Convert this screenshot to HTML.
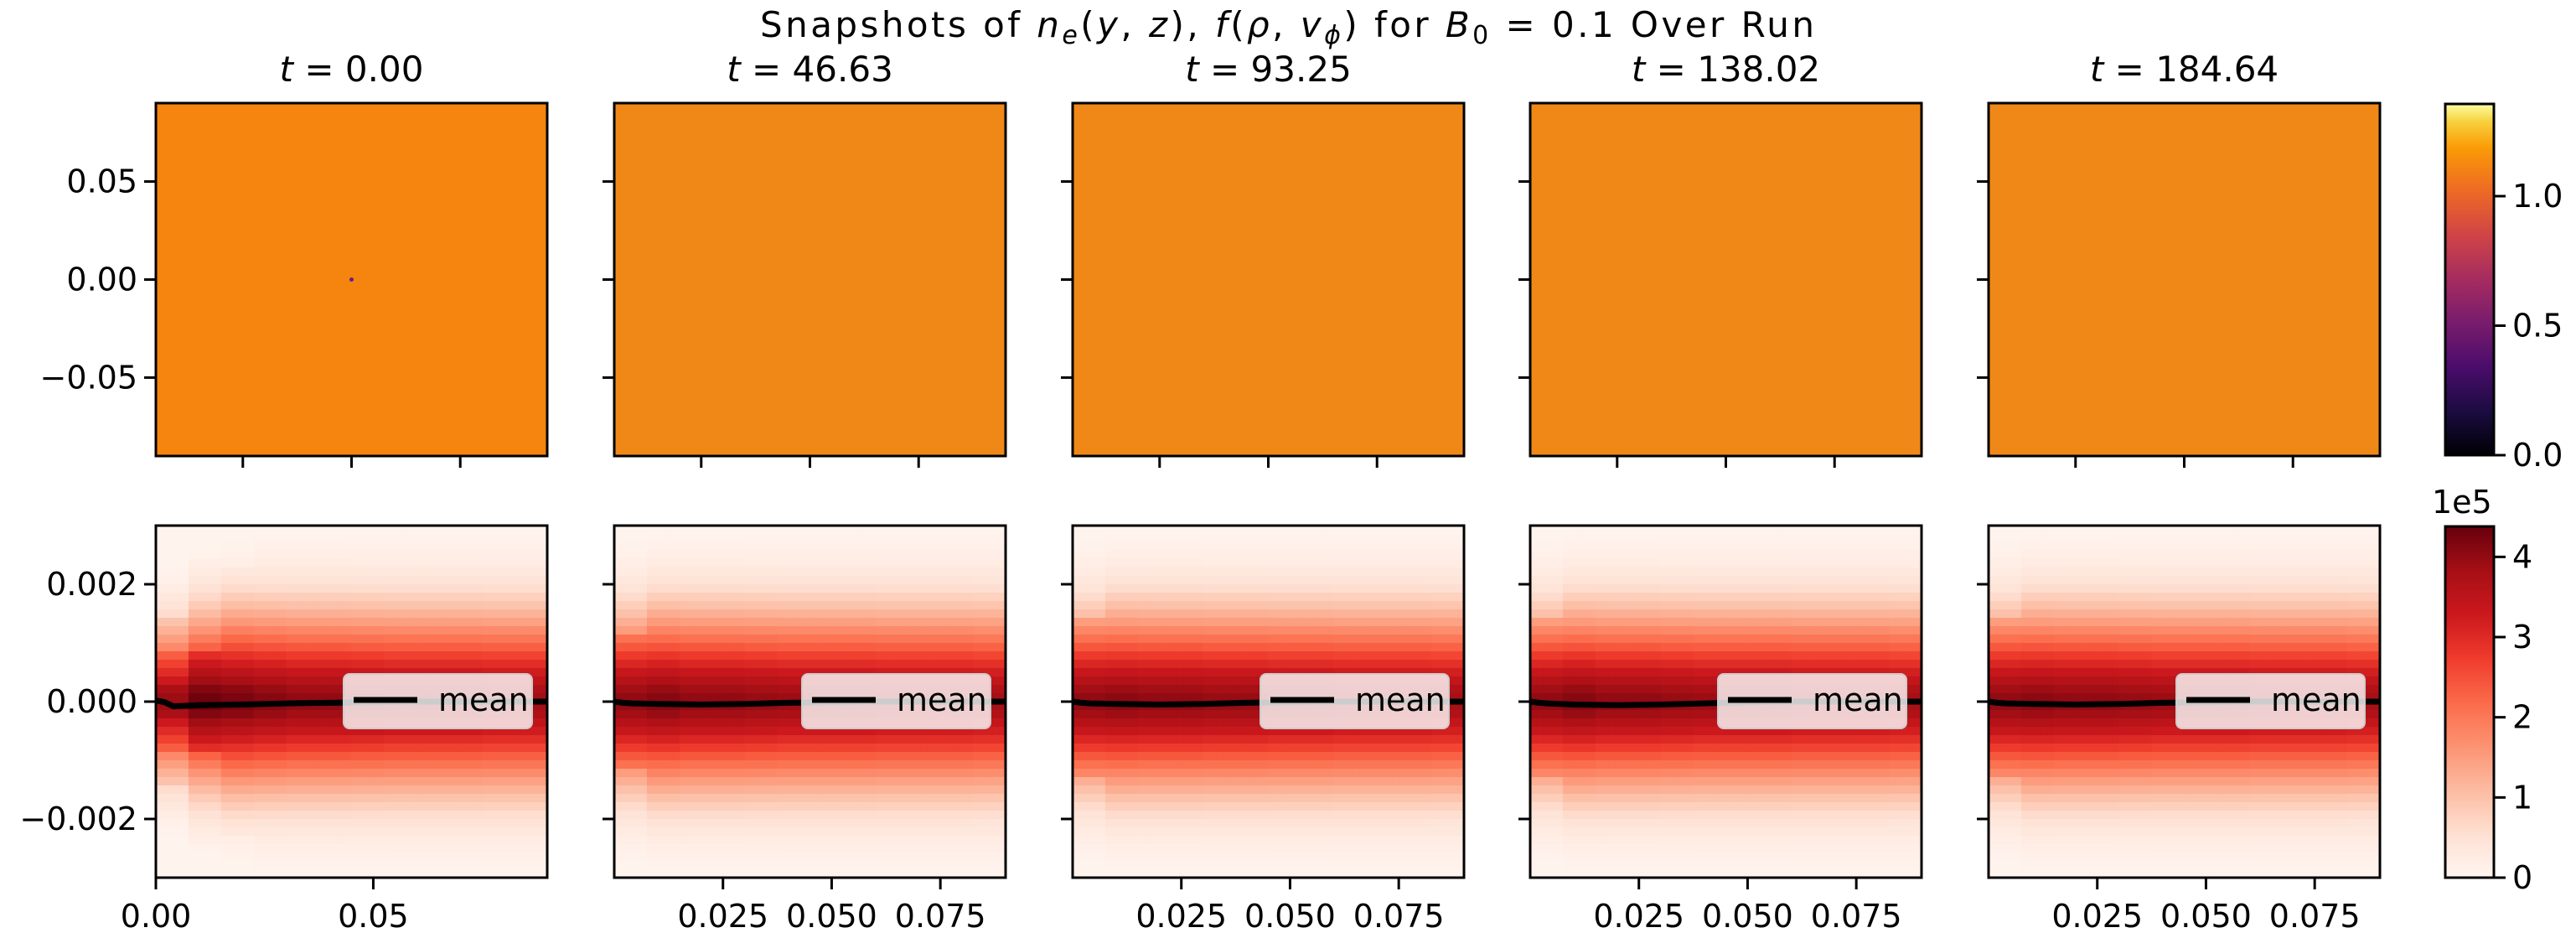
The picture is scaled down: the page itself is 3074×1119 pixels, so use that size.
<!DOCTYPE html>
<html><head><meta charset="utf-8"><style>
html,body{margin:0;padding:0;background:#fff;}
svg{display:block;font-family:"DejaVu Sans","Liberation Sans",sans-serif;}
</style></head><body>
<svg id="fig" xmlns="http://www.w3.org/2000/svg" width="3074" height="1119" viewBox="0 0 3074 1119">
<defs>
<linearGradient id="infernoGrad" x1="0" y1="1" x2="0" y2="0">
<stop offset="0" stop-color="#000004"/><stop offset="0.125" stop-color="#1b0c41"/><stop offset="0.25" stop-color="#4a0c6b"/><stop offset="0.375" stop-color="#781c6d"/><stop offset="0.5" stop-color="#a52c60"/><stop offset="0.625" stop-color="#cf4446"/><stop offset="0.75" stop-color="#ed6925"/><stop offset="0.875" stop-color="#fb9b06"/><stop offset="0.95" stop-color="#f7d13d"/><stop offset="1" stop-color="#fcffa4"/>
</linearGradient>
<linearGradient id="redsGrad" x1="0" y1="1" x2="0" y2="0">
<stop offset="0" stop-color="#fff5f0"/><stop offset="0.125" stop-color="#fee0d2"/><stop offset="0.25" stop-color="#fcbba1"/><stop offset="0.375" stop-color="#fc9272"/><stop offset="0.5" stop-color="#fb6a4a"/><stop offset="0.625" stop-color="#ef3b2c"/><stop offset="0.75" stop-color="#cb181d"/><stop offset="0.875" stop-color="#a50f15"/><stop offset="1" stop-color="#67000d"/>
</linearGradient>
</defs>
<text x="907" y="44" font-size="42" textLength="1258" lengthAdjust="spacing">Snapshots of <tspan font-style="italic">n</tspan><tspan font-style="italic" font-size="30" dy="8">e</tspan><tspan dy="-8">(</tspan><tspan font-style="italic">y</tspan>, <tspan font-style="italic">z</tspan>), <tspan font-style="italic">f</tspan>(<tspan font-style="italic">ρ</tspan>, <tspan font-style="italic">v</tspan><tspan font-style="italic" font-size="30" dy="8">ϕ</tspan><tspan dy="-8">) for </tspan><tspan font-style="italic">B</tspan><tspan font-size="30" dy="8">0</tspan><tspan dy="-8"> = 0.1 Over Run</tspan></text>
<g id="panels"></g>
<g id="cbars"></g>
</svg>
<script>
// ---- data ----
const times = ["0.00", "46.63", "93.25", "138.02", "184.64"];
const topYTicks = [0.05, 0.00, -0.05];
const topYTickLabels = ["0.05", "0.00", "\u22120.05"];
const topXTicks = [-0.05, 0.00, 0.05];
const botYTicks = [0.002, 0.000, -0.002];
const botYTickLabels = ["0.002", "0.000", "\u22120.002"];
const botXTicksFirst = [0.00, 0.05];
const botXTickLabelsFirst = ["0.00", "0.05"];
const botXTicksOther = [0.025, 0.050, 0.075];
const botXTickLabelsOther = ["0.025", "0.050", "0.075"];
// row profile of f (units 1e5), top row (v=+0.003) to bottom row (v=-0.003)
const rowProfile = [0.05,0.08,0.12,0.18,0.25,0.35,0.45,0.6,0.8,1.0,1.25,1.5,1.8,2.1,2.4,2.75,3.05,3.35,3.6,3.85,4.0,4.0,3.85,3.6,3.35,3.05,2.75,2.4,2.1,1.8,1.5,1.25,1.0,0.8,0.6,0.45,0.35,0.25,0.18,0.12,0.08,0.05];
// column widening factors (per 5 columns) per panel
const colFactor0 = [0.8,0.92,0.97,1.0,1.0,1.0,1.0,1.0,1.0,1.0,1.0,1.0];
const colFactor1 = [0.94,0.98,1.0,1.0,1.0,1.0,1.0,1.0,1.0,1.0,1.0,1.0];
const colFactor2 = [0.95,0.98,1.0,1.0,1.0,1.0,1.0,1.0,1.0,1.0,1.0,1.0];
const colFactor3 = [0.95,0.98,1.0,1.0,1.0,1.0,1.0,1.0,1.0,1.0,1.0,1.0];
const colFactor4 = [0.95,0.98,1.0,1.0,1.0,1.0,1.0,1.0,1.0,1.0,1.0,1.0];
const colFactors = [colFactor0,colFactor1,colFactor2,colFactor3,colFactor4];
// column peak amplitude (per 5 columns), 1e5 units
const colPeak0 = [3.9,4.3,4.2,4.1,4.0,4.0,3.95,3.9,3.9,3.9,3.85,3.85];
const colPeak1 = [4.0,4.1,4.0,4.0,3.95,3.9,3.9,3.9,3.85,3.85,3.85,3.8];
const colPeak2 = [4.0,4.05,4.0,4.0,3.95,3.95,3.9,3.9,3.85,3.85,3.85,3.8];
const colPeak3 = [4.0,4.1,4.0,4.0,3.95,3.9,3.9,3.9,3.85,3.85,3.85,3.8];
const colPeak4 = [4.0,4.05,4.0,4.0,3.95,3.9,3.9,3.9,3.85,3.85,3.85,3.8];
const colPeaks = [colPeak0,colPeak1,colPeak2,colPeak3,colPeak4];
// mean line: rho positions and mean v_phi per panel
const meanRho = [0.0, 0.002, 0.004, 0.01, 0.02, 0.03, 0.04, 0.05, 0.06, 0.07, 0.08, 0.09];
const mean0 = [0.00002,-0.00001,-0.00008,-0.00006,-0.00005,-0.00003,-0.00002,-0.00001,0.0,0.0,0.0,0.0];
const mean1 = [0.0,-0.00002,-0.00003,-0.00004,-0.00005,-0.00004,-0.00002,-0.00001,0.0,0.0,0.0,0.0];
const mean2 = [0.0,-0.00002,-0.00003,-0.00004,-0.00005,-0.00004,-0.00002,-0.00001,0.0,0.0,0.0,0.0];
const mean3 = [0.0,-0.00002,-0.00003,-0.00005,-0.00006,-0.00005,-0.00003,-0.00001,0.0,0.0,0.0,0.0];
const mean4 = [0.0,-0.00002,-0.00003,-0.00004,-0.00005,-0.00004,-0.00002,-0.00001,0.0,0.0,0.0,0.0];
const means = [mean0,mean1,mean2,mean3,mean4];
const cbTopTicks = [0.0, 0.5, 1.0];
const cbTopLabels = ["0.0", "0.5", "1.0"];
const cbBotTicks = [0, 1, 2, 3, 4];
const cbBotLabels = ["0", "1", "2", "3", "4"];

// ---- layout ----
const NS = "http://www.w3.org/2000/svg";
const panelX = [186, 733, 1280, 1826, 2373];
const PW = 467;
const topY0 = 123, topY1 = 544, botY0 = 627, botY1 = 1047;
const topRange = [-0.09, 0.09];
const botYRange = [-0.003, 0.003];
const botXRange = [0.0, 0.09];
const NCOL = 60;
const vmaxF = 4.38, vmaxN = 1.356;

function el(tag, attrs, parent) {
  const e = document.createElementNS(NS, tag);
  for (const k in attrs) e.setAttribute(k, attrs[k]);
  parent.appendChild(e);
  return e;
}
const tyScale = v => topY1 - (v - topRange[0]) / (topRange[1] - topRange[0]) * (topY1 - topY0);
const txScale = (px, v) => px + (v - topRange[0]) / (topRange[1] - topRange[0]) * PW;
const byScale = v => botY1 - (v - botYRange[0]) / (botYRange[1] - botYRange[0]) * (botY1 - botY0);
const bxScale = (px, v) => px + (v - botXRange[0]) / (botXRange[1] - botXRange[0]) * PW;

const redsStops = [[255,245,240],[254,224,210],[252,187,161],[252,146,114],[251,106,74],[239,59,44],[203,24,29],[165,15,21],[103,0,13]];
function reds(t) {
  t = Math.max(0, Math.min(1, t));
  const s = t * 8, i = Math.min(7, Math.floor(s)), f = s - i;
  const a = redsStops[i], b = redsStops[i + 1];
  return "rgb(" + a.map((c, k) => Math.round(c + (b[k] - c) * f)).join(",") + ")";
}

const panels = document.getElementById("panels");
for (let p = 0; p < 5; p++) {
  const px = panelX[p];
  const g = el("g", {}, panels);
  
  
  const st = el("text", {x: px + PW / 2, y: 97, "font-size": 42, "text-anchor": "middle"}, g);
  
  
  st.innerHTML = '<tspan font-style="italic">t</tspan> = ' + times[p];

  const img = el("rect", {x: px, y: topY0, width: PW, height: topY1 - topY0, fill: p === 0 ? "#f5850f" : "#f08818"}, g);
  
  
  if (p === 0) {
    const dot = el("circle", {cx: txScale(px, 0), cy: tyScale(0), r: 2.5, fill: "#6a1a8a"}, g);
    
    
  }
  const f1 = el("rect", {x: px, y: topY0, width: PW, height: topY1 - topY0, fill: "none", stroke: "#000", "stroke-width": 3}, g);
  
  
  topYTicks.forEach((v, i) => {
    const y = tyScale(v);
    const tk = el("line", {x1: px - 14, x2: px, y1: y, y2: y, stroke: "#000", "stroke-width": 3}, g);
    
    
    if (p === 0) {
      const tl = el("text", {x: px - 22, y: y + 13, "font-size": 38, "text-anchor": "end"}, g);
      
      
      tl.textContent = topYTickLabels[i];
    }
  });
  topXTicks.forEach(v => {
    const x = txScale(px, v);
    const tk = el("line", {x1: x, x2: x, y1: topY1, y2: topY1 + 14, stroke: "#000", "stroke-width": 3}, g);
    
    
  });

  const hm = el("g", {}, g);
  
  
  const nRow = rowProfile.length;
  const cw = PW / NCOL, rh = (botY1 - botY0) / nRow;
  for (let c = 0; c < NCOL; c++) {
    const grp = Math.floor(c / 5);
    const fac = colFactors[p][grp], pk = colPeaks[p][grp];
    for (let r = 0; r < nRow; r++) {
      const center = (nRow - 1) / 2;
      const rr = center + (r - center) / fac;
      const ri = Math.max(0, Math.min(nRow - 1, Math.round(rr)));
      const val = rowProfile[ri] * pk / 4.0;
      const cell = el("rect", {x: (px + c * cw).toFixed(2), y: (botY0 + r * rh).toFixed(2), width: (cw + 0.6).toFixed(2), height: (rh + 0.6).toFixed(2), fill: reds(val / vmaxF)}, hm);
      
      
    }
  }
  const pts = meanRho.map((x, i) => bxScale(px, x).toFixed(1) + "," + byScale(means[p][i]).toFixed(1)).join(" ");
  const ml = el("polyline", {points: pts, fill: "none", stroke: "#000", "stroke-width": 7, "stroke-linejoin": "round"}, g);
  
  
  const lg = el("g", {}, g);
  
  
  el("rect", {x: px + PW - 243, y: 804, width: 225, height: 65, rx: 7, fill: "rgba(255,255,255,0.8)", stroke: "#cccccc", "stroke-width": 2}, lg);
  const ll = el("line", {x1: px + PW - 231, x2: px + PW - 155, y1: 835, y2: 835, stroke: "#000", "stroke-width": 7}, lg);
  
  
  const lt = el("text", {x: px + PW - 130, y: 848, "font-size": 38}, lg);
  
  
  lt.textContent = "mean";

  const f2 = el("rect", {x: px, y: botY0, width: PW, height: botY1 - botY0, fill: "none", stroke: "#000", "stroke-width": 3}, g);
  
  
  botYTicks.forEach((v, i) => {
    const y = byScale(v);
    const tk = el("line", {x1: px - 14, x2: px, y1: y, y2: y, stroke: "#000", "stroke-width": 3}, g);
    
    
    if (p === 0) {
      const tl = el("text", {x: px - 22, y: y + 13, "font-size": 38, "text-anchor": "end"}, g);
      
      
      tl.textContent = botYTickLabels[i];
    }
  });
  const xt = p === 0 ? botXTicksFirst : botXTicksOther;
  const xl = p === 0 ? botXTickLabelsFirst : botXTickLabelsOther;
  xt.forEach((v, i) => {
    const x = bxScale(px, v);
    const tk = el("line", {x1: x, x2: x, y1: botY1, y2: botY1 + 14, stroke: "#000", "stroke-width": 3}, g);
    
    
    const tl = el("text", {x: x, y: 1106, "font-size": 38, "text-anchor": "middle"}, g);
    
    
    tl.textContent = xl[i];
  });
}

const cb = document.getElementById("cbars");
const cbX = 2918, cbW = 58;
function colorbar(y0, y1, vmax, ticks, labels, grad, name) {
  const g = el("g", {}, cb);
  
  
  el("rect", {x: cbX, y: y0, width: cbW, height: y1 - y0, fill: "url(#" + grad + ")", stroke: "#000", "stroke-width": 3}, g);
  ticks.forEach((v, i) => {
    const y = y1 - v / vmax * (y1 - y0);
    const tk = el("line", {x1: cbX + cbW, x2: cbX + cbW + 14, y1: y, y2: y, stroke: "#000", "stroke-width": 3}, g);
    
    
    const tl = el("text", {x: cbX + cbW + 22, y: y + 13, "font-size": 38}, g);
    
    
    tl.textContent = labels[i];
  });
}
colorbar(124, 543, vmaxN, cbTopTicks, cbTopLabels, "infernoGrad", "density-colorbar");
colorbar(628, 1047, vmaxF, cbBotTicks, cbBotLabels, "redsGrad", "distribution-colorbar");
const off = el("text", {x: 2902, y: 612, "font-size": 38}, cb);


off.textContent = "1e5";
</script>
</body></html>
